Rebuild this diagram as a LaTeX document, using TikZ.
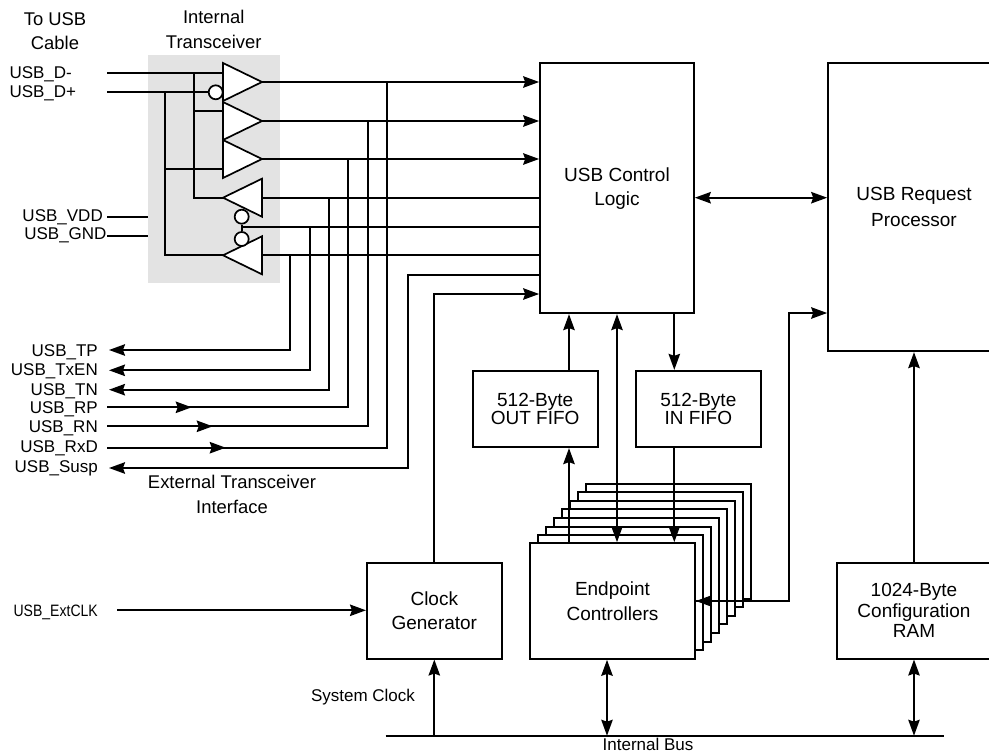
\documentclass[tikz,border=0pt]{standalone}
\usepackage{fontspec}
\setmainfont{Liberation Sans}
\newfontfamily\narrowfont[FakeStretch=0.85]{Liberation Sans}
\usetikzlibrary{arrows.meta,shapes.geometric}
\definecolor{panelgrey}{HTML}{E3E3E3}
\tikzset{
  sig/.style={line width=1.7pt,>={Stealth[length=16pt,width=11.5pt,inset=2pt]}},
  blockbox/.style={draw,line width=1.7pt,fill=white,align=center,inner sep=0pt,
    font=\fontsize{19}{24}\selectfont},
  fwdbuf/.style={draw,line width=1.7pt,fill=white,shape=isosceles triangle,outer sep=0pt,
    isosceles triangle stretches,inner sep=0pt,minimum height=39pt,minimum width=38pt,anchor=apex},
  revbuf/.style={fwdbuf,shape border rotate=180},
  invdot/.style={draw,line width=1.7pt,fill=white,circle,inner sep=0pt,minimum size=14pt},
  siglabel/.style={inner sep=0pt,anchor=base east,font=\fontsize{17}{20}\selectfont},
  headlabel/.style={inner sep=0pt,align=center,font=\fontsize{18.4}{24.5}\selectfont},
}
\begin{document}
\begin{tikzpicture}[x=1pt,y=-1pt]
  \useasboundingbox (0,0) rectangle (989,752);
  \node[fill=panelgrey,minimum width=132pt,minimum height=228pt,inner sep=0pt] (panel) at (214,169) {};

  % transceiver
  \node[fwdbuf] (buf1) at (262,82) {};
  \node[fwdbuf] (buf2) at (262,121) {};
  \node[fwdbuf] (buf3) at (262,159) {};
  \node[revbuf] (buf4) at (223,197.7) {};
  \node[revbuf] (buf5) at (223,255.3) {};
  \node[invdot] (inv1) at (215.7,92.3) {};
  \node[invdot] (inv2) at (241.7,216.7) {};
  \node[invdot] (inv3) at (241.7,239) {};

  % headings
  \node[headlabel] (head1) at (55,31.3) {To USB\\Cable};
  \node[headlabel] (head2) at (213.7,29.3) {Internal\\Transceiver};
  \node[headlabel] (head3) at (232,494.3) {External Transceiver\\Interface};
  \node[siglabel,anchor=center] (syslbl) at (363,697) {System Clock};
  \node[siglabel,anchor=center] (buslbl) at (648,744) {Internal Bus};

  % blocks
  \node[blockbox,minimum width=154pt,minimum height=250pt] (ctrl) at (617,188.3) {USB Control\\Logic};
  \node[blockbox,minimum width=172pt,minimum height=288pt,font=\fontsize{19}{26}\selectfont] (req) at (914,207.3) {USB Request\\Processor};
  \node[blockbox,minimum width=125pt,minimum height=76.6pt,font=\fontsize{19}{18}\selectfont] (fifoout) at (535.2,409) {512-Byte\\OUT FIFO};
  \node[blockbox,minimum width=125pt,minimum height=76.6pt,font=\fontsize{19}{18}\selectfont] (fifoin) at (698.3,409) {512-Byte\\IN FIFO};
  \foreach \k/\t in {7/484,6/492,5/501,4/509,3/518,2/527,1/535}
    \node[blockbox,minimum width=165pt,minimum height=115pt] (ep\k) at (612.5+8*\k,\t+57.5) {};
  \node[blockbox,minimum width=165pt,minimum height=116pt,font=\fontsize{19}{25}\selectfont] (ep) at (612.5,601) {Endpoint\\Controllers};
  \node[blockbox,minimum width=135pt,minimum height=96pt] (clk) at (434.3,610.7) {Clock\\Generator};
  \node[blockbox,minimum width=154pt,minimum height=96pt,font=\fontsize{19}{20.5}\selectfont] (ram) at (914,610.7) {1024-Byte\\Configuration\\RAM};

  % pins
  \node[siglabel,anchor=base west] (lblDm) at (9.3,79) {USB\_D-};
  \node[siglabel,anchor=base west] (lblDp) at (9.3,98) {USB\_D+};
  \node[siglabel] (lblVdd) at (103,221) {USB\_VDD};
  \node[siglabel] (lblGnd) at (106.7,239) {USB\_GND};
  \foreach \nm/\lab/\y in {Tp/TP/350,Txen/TxEN/369.3,Tn/TN/389.3,Rp/RP/407.7,Rn/RN/426.7,Rxd/RxD/446.7,Susp/Susp/466}
    \node[siglabel] (lbl\nm) at (98,\y+6) {USB\_\lab};
  \node[siglabel,font=\fontsize{16.5}{20}\narrowfont] (lblExt) at (98,616) {USB\_ExtCLK};

  \coordinate (pinDm) at (107,73);
  \coordinate (pinDp) at (107,92.3);
  \coordinate (pinVdd) at (107,217);
  \coordinate (pinGnd) at (107,236.3);
  \coordinate (pinTp) at (109,350);
  \coordinate (pinTxen) at (109,370.3);
  \coordinate (pinTn) at (109,389.7);
  \coordinate (pinRp) at (107,407.3);
  \coordinate (pinRn) at (107,426.3);
  \coordinate (pinRxd) at (107,447.7);
  \coordinate (pinSusp) at (109,468);
  \coordinate (pinExt) at (117,610.3);
  \coordinate (tipRp) at (191.7,407.3);
  \coordinate (tipRn) at (212.7,426.3);
  \coordinate (tipRxd) at (225.7,447.7);
  \coordinate (tapRxd) at (386.7,0);
  \coordinate (tapRn) at (367.7,0);
  \coordinate (tapRp) at (348.3,0);
  \coordinate (tapTn) at (329,0);
  \coordinate (tapTxen) at (309.7,0);
  \coordinate (tapTp) at (290.3,0);
  \coordinate (railA) at (194.3,73);
  \coordinate (railB) at (165.3,92.3);
  \coordinate (enJoin) at (241.7,226.7);
  \coordinate (suspTurn) at (408.3,274.7);
  \coordinate (clkTurn) at (434.3,294);
  \coordinate (reqTurn) at (789.3,313);
  \coordinate (xOut) at (569,0);
  \coordinate (xIn) at (674.3,0);
  \coordinate (xBus) at (607,0);
  \coordinate (busW) at (385.7,735.7);
  \coordinate (busE) at (944.3,735.7);

  % transceiver inputs
  \draw[sig] (pinDm) -- (pinDm -| buf1.lower side);
  \draw[sig] (pinDp) -- (inv1);
  \draw[sig] (railA) -- (railA |- buf4.apex) -- (buf4.apex);
  \draw[sig] (railA |- 0,111) -- (buf2.lower side |- 0,111);
  \draw[sig] (railB) -- (railB |- buf5.apex) -- (buf5.apex);
  \draw[sig] (railB |- 0,169.3) -- (buf3.lower side |- 0,169.3);
  \draw[sig] (pinVdd) -- (panel.west |- pinVdd);
  \draw[sig] (pinGnd) -- (panel.west |- pinGnd);
  \draw[sig] (inv2) -- (inv3);

  % to control logic
  \draw[sig,->] (buf1.apex) -- (ctrl.west |- buf1.apex);
  \draw[sig,->] (buf2.apex) -- (ctrl.west |- buf2.apex);
  \draw[sig,->] (buf3.apex) -- (ctrl.west |- buf3.apex);
  \draw[sig] (buf4.lower side) -- (ctrl.west |- buf4.lower side);
  \draw[sig] (enJoin) -- (ctrl.west |- enJoin);
  \draw[sig] (buf5.lower side) -- (ctrl.west |- buf5.lower side);

  % external interface
  \draw[sig,->] (tapTp |- buf5.apex) -- (tapTp |- pinTp) -- (pinTp);
  \draw[sig,->] (tapTxen |- enJoin) -- (tapTxen |- pinTxen) -- (pinTxen);
  \draw[sig,->] (tapTn |- buf4.apex) -- (tapTn |- pinTn) -- (pinTn);
  \draw[sig] (tapRp |- buf3.apex) -- (tapRp |- pinRp) -- ([xshift=-6pt]tipRp);
  \draw[sig] (tapRn |- buf2.apex) -- (tapRn |- pinRn) -- ([xshift=-6pt]tipRn);
  \draw[sig] (tapRxd |- buf1.apex) -- (tapRxd |- pinRxd) -- ([xshift=-6pt]tipRxd);
  \draw[sig,->] (pinRp) -- (tipRp);
  \draw[sig,->] (pinRn) -- (tipRn);
  \draw[sig,->] (pinRxd) -- (tipRxd);
  \draw[sig,->] (ctrl.west |- suspTurn) -- (suspTurn) -- (suspTurn |- pinSusp) -- (pinSusp);

  % clock
  \draw[sig,->] (pinExt) -- (clk.west |- pinExt);
  \draw[sig,->] (clk.north) -- (clkTurn) -- (ctrl.west |- clkTurn);
  \draw[sig,->] (clk.south |- busW) -- (clk.south);

  % fifos and controllers
  \draw[sig,->] (fifoout.north -| xOut) -- (ctrl.south -| xOut);
  \draw[sig,->] (ep.north -| xOut) -- (fifoout.south -| xOut);
  \draw[sig,->] (ctrl.south -| xIn) -- (fifoin.north -| xIn);
  \draw[sig,->] (fifoin.south -| xIn) -- (ep.north -| xIn);
  \draw[sig,<->] (ctrl.south) -- (ctrl.south |- ep.north);
  \draw[sig,<->] (ctrl.east |- buf4.apex) -- (req.west |- buf4.apex);
  \draw[sig,->] (ep.east) -- (reqTurn |- ep.east) -- (reqTurn) -- (req.west |- reqTurn);
  \draw[sig,->] (reqTurn |- ep.east) -- (ep.east);
  \draw[sig,->] (ram.north) -- (req.south);

  % internal bus
  \draw[sig] (busW) -- (busE);
  \draw[sig,<->] (ep.south -| xBus) -- (busW -| xBus);
  \draw[sig,<->] (ram.south) -- (ram.south |- busW);
\end{tikzpicture}
\end{document}
